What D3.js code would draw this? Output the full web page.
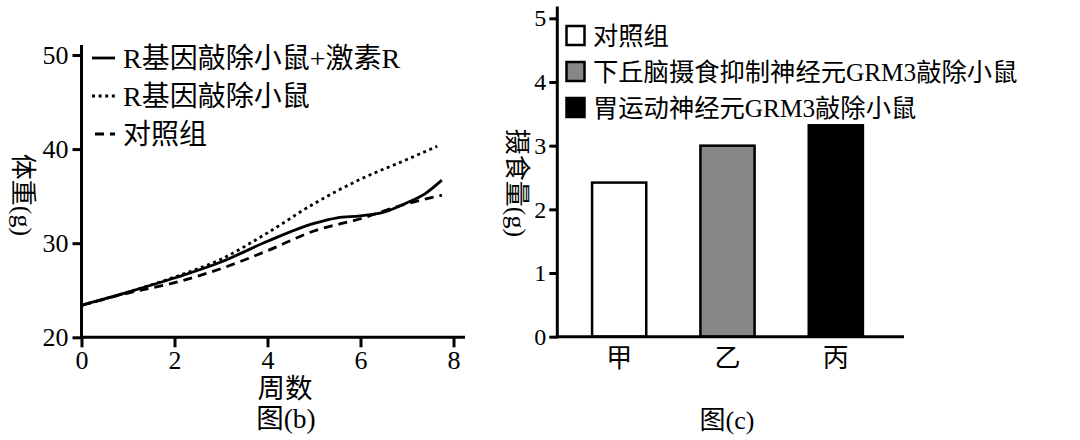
<!DOCTYPE html>
<html>
<head>
<meta charset="utf-8">
<script src="https://cdn.jsdelivr.net/npm/d3@7"></script>
<style>
  body { margin: 0; background: #fff; }
  text { font-family: "Liberation Serif", "Noto Sans CJK SC", serif; fill: #000; }
</style>
</head>
<body>
<script>
// DATA - 图(b) body weight curves
const weeks_hormone = [0, 1, 2, 3, 4, 5, 5.5, 6, 6.5, 7, 7.4, 7.75];
const weight_hormone = [23.4, 24.8, 26.3, 28.0, 30.2, 32.1, 32.7, 32.9, 33.3, 34.3, 35.3, 36.7];
const weeks_knockout = [0, 1, 2, 3, 4, 5, 6, 7, 7.65];
const weight_knockout = [23.4, 24.8, 26.4, 28.3, 31.1, 34.2, 36.8, 38.9, 40.3];
const weeks_control = [0, 1, 2, 3, 4, 5, 6, 7, 7.75];
const weight_control = [23.4, 24.7, 25.8, 27.3, 29.2, 31.3, 32.6, 34.2, 35.1];
const line_names = ["R基因敲除小鼠+激素R", "R基因敲除小鼠", "对照组"];
const weight_ticks = [20, 30, 40, 50];
const week_ticks = [0, 2, 4, 6, 8];

// DATA - 图(c) food intake bars
const groups = ["甲", "乙", "丙"];
const intake = [2.42, 3.0, 3.32];
const bar_names = ["对照组", "下丘脑摄食抑制神经元GRM3敲除小鼠", "胃运动神经元GRM3敲除小鼠"];
const bar_colors = ["#ffffff", "#878787", "#000000"];
const intake_ticks = [0, 1, 2, 3, 4, 5];

const svg = d3.select("body").append("svg")
    .attr("width", 1080)
    .attr("height", 440);

// ---------- 图(b) ----------
const x = d3.scaleLinear().domain([0, 8]).range([81.5, 453.5]);
const y = d3.scaleLinear().domain([20, 50]).range([337.3, 55]);

const left = svg.append("g");

const series = [
  {name: line_names[0], xs: weeks_hormone, ys: weight_hormone, dash: null},
  {name: line_names[1], xs: weeks_knockout, ys: weight_knockout, dash: "3,3.6"},
  {name: line_names[2], xs: weeks_control, ys: weight_control, dash: "9,6"}
];

const line = d3.line()
    .x(d => x(d[0]))
    .y(d => y(d[1]))
    .curve(d3.curveMonotoneX);

left.selectAll("path.curve").data(series)
  .enter().append("path")
    .attr("class", "curve")
    .attr("d", s => line(s.xs.map((v, i) => [v, s.ys[i]])))
    .attr("fill", "none")
    .attr("stroke", "#000")
    .attr("stroke-width", 2.8)
    .attr("stroke-dasharray", s => s.dash);

// axes
const yAxisL = left.append("g")
    .attr("transform", "translate(" + x(0) + ",0)")
    .call(d3.axisLeft(y).tickValues(weight_ticks).tickSize(9).tickPadding(4));
yAxisL.select(".domain").remove();
left.append("line")
    .attr("x1", x(0)).attr("x2", x(0))
    .attr("y1", 45).attr("y2", y(20) + 1.5)
    .attr("stroke", "#000").attr("stroke-width", 3);

const xAxisL = left.append("g")
    .attr("transform", "translate(0," + y(20) + ")")
    .call(d3.axisBottom(x).tickValues(week_ticks).tickSize(10).tickPadding(3));
xAxisL.select(".domain").remove();
left.append("line")
    .attr("x1", x(0) - 1.5).attr("x2", 465)
    .attr("y1", y(20)).attr("y2", y(20))
    .attr("stroke", "#000").attr("stroke-width", 3);

[yAxisL, xAxisL].forEach(a => {
  a.selectAll(".tick line").attr("stroke", "#000").attr("stroke-width", 3);
  a.selectAll(".tick text").style("font-size", "26px");
});

// legend (b)
const legL = left.selectAll("g.leg").data(series)
  .enter().append("g")
    .attr("class", "leg")
    .attr("transform", (d, i) => "translate(0," + (58 + i * 38) + ")");
legL.append("line")
    .attr("x1", (d, i) => i === 2 ? 95 : 92).attr("x2", 115)
    .attr("y1", 0).attr("y2", 0)
    .attr("stroke", "#000").attr("stroke-width", 2.8)
    .attr("stroke-dasharray", d => d.dash);
legL.append("text")
    .attr("x", 123).attr("y", 10)
    .style("font-size", "28px")
    .text(d => d.name);

// titles (b)
left.append("text")
    .attr("x", 285).attr("y", 398)
    .attr("text-anchor", "middle")
    .style("font-size", "27.5px")
    .text("周数");
left.append("text")
    .attr("x", 286).attr("y", 428)
    .attr("text-anchor", "middle")
    .style("font-size", "27.5px")
    .text("图(b)");
left.append("text")
    .attr("transform", "translate(14,195) rotate(90)")
    .attr("text-anchor", "middle")
    .style("font-size", "26px")
    .text("体重(g)");

// ---------- 图(c) ----------
const xb = d3.scaleBand().domain(groups).range([565, 890])
    .paddingInner(0.5).paddingOuter(0.25);
const yb = d3.scaleLinear().domain([0, 5]).range([336.7, 18.3]);

const right = svg.append("g");

right.selectAll("rect.bar").data(groups)
  .enter().append("rect")
    .attr("class", "bar")
    .attr("x", d => xb(d))
    .attr("y", (d, i) => yb(intake[i]))
    .attr("width", xb.bandwidth())
    .attr("height", (d, i) => yb(0) - yb(intake[i]))
    .attr("fill", (d, i) => bar_colors[i])
    .attr("stroke", "#000")
    .attr("stroke-width", 2.5);

const yAxisR = right.append("g")
    .attr("transform", "translate(557.3,0)")
    .call(d3.axisLeft(yb).tickValues(intake_ticks).tickFormat(d3.format("d"))
      .tickSize(8).tickPadding(3));
yAxisR.select(".domain").remove();
yAxisR.selectAll(".tick line").attr("stroke", "#000").attr("stroke-width", 3);
yAxisR.selectAll(".tick text").style("font-size", "24px");
right.append("line")
    .attr("x1", 557.3).attr("x2", 557.3)
    .attr("y1", 6.5).attr("y2", yb(0) + 1.5)
    .attr("stroke", "#000").attr("stroke-width", 3);

const xAxisR = right.append("g")
    .attr("transform", "translate(0," + yb(0) + ")")
    .call(d3.axisBottom(xb).tickSize(0).tickPadding(12));
xAxisR.select(".domain").remove();
xAxisR.selectAll(".tick text").style("font-size", "26px");
right.append("line")
    .attr("x1", 555.8).attr("x2", 904)
    .attr("y1", yb(0)).attr("y2", yb(0))
    .attr("stroke", "#000").attr("stroke-width", 3);

// legend (c)
const legR = right.selectAll("g.leg").data(bar_names)
  .enter().append("g")
    .attr("class", "leg")
    .attr("transform", (d, i) => "translate(0," + (35.5 + i * 36) + ")");
legR.append("rect")
    .attr("x", 566.5).attr("y", -9.5)
    .attr("width", 18).attr("height", 19)
    .attr("fill", (d, i) => bar_colors[i])
    .attr("stroke", "#000").attr("stroke-width", 2.5);
legR.append("text")
    .attr("x", 593).attr("y", 9)
    .style("font-size", "25.3px")
    .text(d => d);

// titles (c)
right.append("text")
    .attr("x", 727).attr("y", 429)
    .attr("text-anchor", "middle")
    .style("font-size", "26px")
    .text("图(c)");
right.append("text")
    .attr("transform", "translate(508,183) rotate(90)")
    .attr("text-anchor", "middle")
    .style("font-size", "26px")
    .text("摄食量(g)");
</script>
</body>
</html>
